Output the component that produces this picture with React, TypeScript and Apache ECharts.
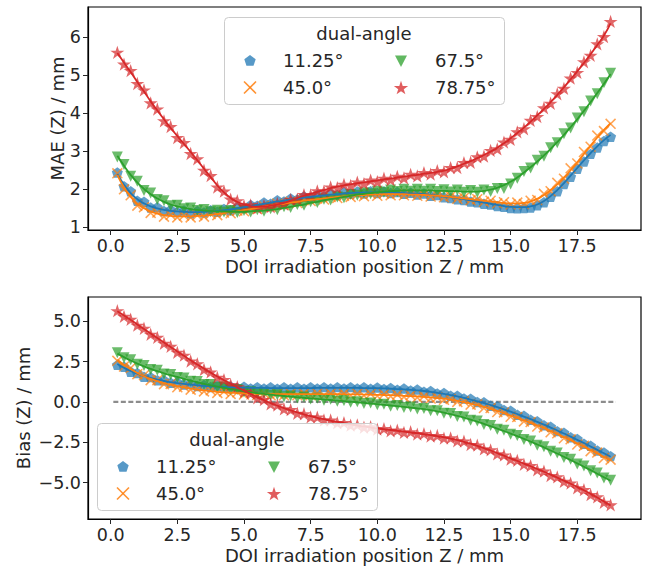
import React, { useEffect, useRef } from "react";
import * as echarts from "echarts";

// DOI irradiation positions Z (mm)
const zPositions = [
  0.25, 0.5, 0.75, 1.0, 1.25, 1.5, 1.75, 2.0, 2.25, 2.5,
  2.75, 3.0, 3.25, 3.5, 3.75, 4.0, 4.25, 4.5, 4.75, 5.0,
  5.25, 5.5, 5.75, 6.0, 6.25, 6.5, 6.75, 7.0, 7.25, 7.5,
  7.75, 8.0, 8.25, 8.5, 8.75, 9.0, 9.25, 9.5, 9.75, 10.0,
  10.25, 10.5, 10.75, 11.0, 11.25, 11.5, 11.75, 12.0, 12.25, 12.5,
  12.75, 13.0, 13.25, 13.5, 13.75, 14.0, 14.25, 14.5, 14.75, 15.0,
  15.25, 15.5, 15.75, 16.0, 16.25, 16.5, 16.75, 17.0, 17.25, 17.5,
  17.75, 18.0, 18.25, 18.5, 18.75,
];

const angleNames = ["11.25°", "45.0°", "67.5°", "78.75°"];

// ---- MAE (Z), measured points ----
const maeMeas11 = [
  2.44, 2.08, 1.95, 1.70, 1.67, 1.52, 1.53, 1.43, 1.46, 1.40,
  1.44, 1.37, 1.43, 1.39, 1.45, 1.41, 1.48, 1.45, 1.53, 1.51,
  1.59, 1.57, 1.65, 1.62, 1.71, 1.68, 1.76, 1.73, 1.81, 1.78,
  1.85, 1.82, 1.89, 1.85, 1.92, 1.88, 1.94, 1.89, 1.95, 1.90,
  1.94, 1.90, 1.93, 1.88, 1.91, 1.86, 1.89, 1.83, 1.85, 1.79,
  1.77, 1.74, 1.72, 1.68, 1.66, 1.62, 1.60, 1.56, 1.54, 1.51,
  1.50, 1.51, 1.52, 1.58, 1.66, 1.80, 1.95, 2.14, 2.33, 2.54,
  2.73, 2.93, 3.10, 3.27, 3.38,
];
const maeMeas45 = [
  2.42, 2.00, 1.84, 1.57, 1.53, 1.38, 1.39, 1.28, 1.33, 1.26,
  1.31, 1.26, 1.32, 1.28, 1.35, 1.32, 1.39, 1.37, 1.44, 1.42,
  1.50, 1.48, 1.56, 1.54, 1.62, 1.59, 1.67, 1.64, 1.72, 1.69,
  1.76, 1.73, 1.80, 1.77, 1.83, 1.80, 1.86, 1.82, 1.88, 1.83,
  1.89, 1.84, 1.89, 1.84, 1.88, 1.83, 1.87, 1.81, 1.85, 1.79,
  1.82, 1.75, 1.78, 1.71, 1.74, 1.67, 1.70, 1.63, 1.66, 1.60,
  1.65, 1.61, 1.70, 1.72, 1.88, 1.95, 2.17, 2.28, 2.55, 2.68,
  2.98, 3.12, 3.41, 3.53, 3.72,
];
const maeMeas675 = [
  2.85, 2.65, 2.34, 2.21, 1.97, 1.90, 1.73, 1.70, 1.57, 1.58,
  1.49, 1.51, 1.44, 1.47, 1.41, 1.45, 1.40, 1.44, 1.39, 1.44,
  1.40, 1.46, 1.42, 1.49, 1.46, 1.54, 1.52, 1.60, 1.58, 1.67,
  1.65, 1.74, 1.72, 1.80, 1.78, 1.86, 1.84, 1.91, 1.88, 1.95,
  1.92, 1.98, 1.94, 2.00, 1.95, 2.00, 1.95, 2.00, 1.94, 1.99,
  1.93, 1.98, 1.92, 1.97, 1.92, 1.98, 1.94, 2.02, 2.02, 2.14,
  2.29, 2.47, 2.56, 2.76, 2.87, 3.09, 3.22, 3.46, 3.61, 3.87,
  4.04, 4.32, 4.51, 4.80, 5.05,
];
const maeMeas7875 = [
  5.60, 5.29, 5.12, 4.78, 4.61, 4.27, 4.11, 3.80, 3.65, 3.36,
  3.23, 2.94, 2.80, 2.50, 2.36, 2.06, 1.95, 1.74, 1.70, 1.57,
  1.59, 1.51, 1.57, 1.54, 1.63, 1.61, 1.73, 1.74, 1.86, 1.85,
  1.96, 1.95, 2.06, 2.04, 2.13, 2.10, 2.19, 2.15, 2.24, 2.20,
  2.29, 2.25, 2.34, 2.30, 2.39, 2.35, 2.44, 2.40, 2.49, 2.46,
  2.57, 2.57, 2.70, 2.71, 2.85, 2.87, 3.02, 3.06, 3.24, 3.31,
  3.51, 3.59, 3.81, 3.91, 4.14, 4.26, 4.51, 4.65, 4.92, 5.07,
  5.35, 5.52, 5.82, 6.01, 6.41,
];

// ---- MAE (Z), fitted curves ----
const maeFit11 = [
  2.40, 2.12, 1.90, 1.74, 1.63, 1.55, 1.50, 1.46, 1.43, 1.42,
  1.41, 1.40, 1.40, 1.41, 1.42, 1.43, 1.45, 1.47, 1.50, 1.53,
  1.56, 1.59, 1.62, 1.65, 1.68, 1.70, 1.73, 1.75, 1.78, 1.80,
  1.82, 1.84, 1.86, 1.87, 1.89, 1.90, 1.91, 1.91, 1.92, 1.92,
  1.92, 1.92, 1.91, 1.90, 1.89, 1.88, 1.87, 1.85, 1.83, 1.81,
  1.79, 1.77, 1.74, 1.71, 1.68, 1.65, 1.62, 1.59, 1.56, 1.54,
  1.53, 1.53, 1.55, 1.60, 1.69, 1.82, 1.98, 2.16, 2.36, 2.56,
  2.76, 2.95, 3.13, 3.29, 3.43,
];
const maeFit45 = [
  2.38, 2.05, 1.80, 1.62, 1.50, 1.42, 1.36, 1.32, 1.30, 1.29,
  1.29, 1.29, 1.30, 1.31, 1.33, 1.35, 1.37, 1.40, 1.42, 1.45,
  1.48, 1.51, 1.54, 1.57, 1.60, 1.62, 1.65, 1.67, 1.70, 1.72,
  1.74, 1.76, 1.78, 1.80, 1.81, 1.83, 1.84, 1.85, 1.86, 1.86,
  1.87, 1.87, 1.87, 1.87, 1.86, 1.86, 1.85, 1.84, 1.83, 1.82,
  1.80, 1.78, 1.76, 1.74, 1.72, 1.70, 1.68, 1.66, 1.64, 1.63,
  1.63, 1.64, 1.68, 1.75, 1.85, 1.98, 2.13, 2.31, 2.50, 2.71,
  2.93, 3.15, 3.36, 3.56, 3.74,
];
const maeFit675 = [
  2.88, 2.62, 2.38, 2.18, 2.01, 1.87, 1.76, 1.67, 1.60, 1.55,
  1.51, 1.48, 1.46, 1.44, 1.43, 1.42, 1.42, 1.41, 1.41, 1.41,
  1.42, 1.43, 1.44, 1.46, 1.48, 1.51, 1.54, 1.57, 1.60, 1.64,
  1.67, 1.71, 1.74, 1.77, 1.80, 1.83, 1.86, 1.88, 1.90, 1.92,
  1.94, 1.95, 1.96, 1.97, 1.97, 1.97, 1.97, 1.97, 1.96, 1.96,
  1.95, 1.95, 1.94, 1.94, 1.94, 1.96, 1.99, 2.04, 2.11, 2.20,
  2.31, 2.44, 2.58, 2.73, 2.89, 3.06, 3.24, 3.43, 3.63, 3.84,
  4.06, 4.29, 4.53, 4.77, 5.03,
];
const maeFit7875 = [
  5.58, 5.33, 5.08, 4.82, 4.57, 4.31, 4.07, 3.84, 3.61, 3.40,
  3.19, 2.98, 2.76, 2.54, 2.32, 2.10, 1.92, 1.77, 1.67, 1.60,
  1.56, 1.54, 1.54, 1.57, 1.60, 1.64, 1.70, 1.77, 1.83, 1.88,
  1.93, 1.98, 2.03, 2.07, 2.10, 2.13, 2.16, 2.18, 2.21, 2.23,
  2.26, 2.28, 2.31, 2.33, 2.36, 2.38, 2.41, 2.43, 2.46, 2.49,
  2.54, 2.60, 2.67, 2.74, 2.82, 2.90, 2.99, 3.09, 3.21, 3.34,
  3.48, 3.62, 3.78, 3.94, 4.11, 4.29, 4.48, 4.68, 4.89, 5.10,
  5.32, 5.55, 5.79, 6.04, 6.36,
];

// ---- Bias (Z), measured points ----
const biasMeas11 = [
  2.30, 2.18, 1.87, 1.80, 1.56, 1.54, 1.35, 1.35, 1.19, 1.22,
  1.08, 1.12, 0.99, 1.05, 0.93, 1.00, 0.89, 0.96, 0.86, 0.94,
  0.84, 0.92, 0.83, 0.91, 0.82, 0.91, 0.82, 0.91, 0.82, 0.91,
  0.83, 0.92, 0.83, 0.92, 0.83, 0.92, 0.83, 0.91, 0.82, 0.90,
  0.80, 0.87, 0.76, 0.83, 0.71, 0.77, 0.64, 0.68, 0.53, 0.55,
  0.38, 0.39, 0.21, 0.20, 0.00, -0.02, -0.23, -0.27, -0.50, -0.55,
  -0.79, -0.86, -1.11, -1.19, -1.45, -1.54, -1.81, -1.91, -2.19, -2.30,
  -2.59, -2.71, -3.01, -3.13, -3.36,
];
const biasMeas45 = [
  2.55, 2.20, 2.10, 1.72, 1.66, 1.35, 1.35, 1.10, 1.12, 0.91,
  0.95, 0.76, 0.82, 0.65, 0.72, 0.56, 0.65, 0.50, 0.60, 0.46,
  0.56, 0.43, 0.54, 0.41, 0.53, 0.41, 0.53, 0.41, 0.53, 0.41,
  0.53, 0.41, 0.53, 0.41, 0.53, 0.40, 0.52, 0.39, 0.50, 0.37,
  0.48, 0.35, 0.45, 0.31, 0.41, 0.27, 0.36, 0.21, 0.29, 0.13,
  0.19, 0.00, 0.04, -0.17, -0.15, -0.38, -0.38, -0.63, -0.65, -0.92,
  -0.94, -1.21, -1.25, -1.53, -1.58, -1.88, -1.94, -2.25, -2.32, -2.64,
  -2.72, -3.05, -3.14, -3.48, -3.58,
];
const biasMeas675 = [
  3.05, 2.74, 2.62, 2.34, 2.26, 2.01, 1.96, 1.74, 1.71, 1.51,
  1.48, 1.28, 1.27, 1.08, 1.08, 0.91, 0.92, 0.76, 0.78, 0.62,
  0.64, 0.51, 0.54, 0.41, 0.45, 0.33, 0.37, 0.25, 0.30, 0.18,
  0.23, 0.11, 0.16, 0.04, 0.09, -0.02, 0.02, -0.10, -0.06, -0.18,
  -0.14, -0.26, -0.22, -0.34, -0.31, -0.44, -0.41, -0.55, -0.54, -0.70,
  -0.72, -0.90, -0.93, -1.13, -1.18, -1.40, -1.46, -1.69, -1.76, -2.00,
  -2.08, -2.33, -2.42, -2.68, -2.78, -3.05, -3.16, -3.44, -3.56, -3.85,
  -3.98, -4.27, -4.41, -4.71, -4.85,
];
const biasMeas7875 = [
  5.66, 5.31, 5.13, 4.76, 4.57, 4.20, 4.01, 3.64, 3.45, 3.08,
  2.90, 2.54, 2.37, 2.02, 1.86, 1.53, 1.39, 1.08, 0.95, 0.65,
  0.54, 0.25, 0.15, -0.12, -0.19, -0.43, -0.48, -0.70, -0.73, -0.93,
  -0.94, -1.12, -1.12, -1.29, -1.28, -1.44, -1.42, -1.57, -1.54, -1.69,
  -1.65, -1.79, -1.75, -1.89, -1.85, -1.99, -1.96, -2.11, -2.08, -2.24,
  -2.23, -2.41, -2.43, -2.64, -2.68, -2.91, -2.97, -3.22, -3.29, -3.55,
  -3.62, -3.87, -3.95, -4.21, -4.29, -4.56, -4.65, -4.93, -5.03, -5.32,
  -5.44, -5.75, -5.89, -6.22, -6.38,
];

// ---- Bias (Z), fitted curves ----
const biasFit11 = [
  2.35, 2.12, 1.92, 1.75, 1.61, 1.49, 1.39, 1.30, 1.23, 1.17,
  1.12, 1.07, 1.03, 1.00, 0.97, 0.95, 0.93, 0.91, 0.90, 0.89,
  0.88, 0.87, 0.87, 0.86, 0.86, 0.86, 0.86, 0.86, 0.86, 0.86,
  0.87, 0.87, 0.87, 0.87, 0.87, 0.87, 0.87, 0.86, 0.86, 0.85,
  0.84, 0.82, 0.80, 0.78, 0.75, 0.72, 0.68, 0.63, 0.57, 0.50,
  0.42, 0.34, 0.25, 0.15, 0.04, -0.07, -0.19, -0.32, -0.46, -0.60,
  -0.75, -0.91, -1.07, -1.24, -1.41, -1.59, -1.77, -1.96, -2.15, -2.35,
  -2.55, -2.76, -2.97, -3.18, -3.40,
];
const biasFit45 = [
  2.62, 2.31, 2.04, 1.80, 1.60, 1.43, 1.29, 1.17, 1.07, 0.98,
  0.90, 0.83, 0.77, 0.72, 0.67, 0.63, 0.60, 0.57, 0.55, 0.53,
  0.51, 0.50, 0.49, 0.48, 0.48, 0.48, 0.48, 0.48, 0.48, 0.48,
  0.48, 0.48, 0.48, 0.48, 0.48, 0.47, 0.47, 0.46, 0.45, 0.44,
  0.43, 0.42, 0.40, 0.38, 0.36, 0.34, 0.31, 0.28, 0.24, 0.20,
  0.14, 0.07, -0.01, -0.10, -0.20, -0.31, -0.43, -0.56, -0.70, -0.85,
  -0.99, -1.14, -1.30, -1.46, -1.63, -1.81, -1.99, -2.18, -2.37, -2.57,
  -2.77, -2.98, -3.19, -3.41, -3.63,
];
const biasFit675 = [
  3.00, 2.78, 2.57, 2.38, 2.21, 2.05, 1.91, 1.78, 1.66, 1.55,
  1.43, 1.32, 1.22, 1.12, 1.03, 0.95, 0.87, 0.80, 0.73, 0.66,
  0.60, 0.55, 0.50, 0.45, 0.41, 0.37, 0.33, 0.29, 0.26, 0.22,
  0.19, 0.15, 0.12, 0.08, 0.05, 0.02, -0.02, -0.06, -0.10, -0.14,
  -0.18, -0.22, -0.26, -0.30, -0.35, -0.40, -0.45, -0.51, -0.58, -0.66,
  -0.76, -0.86, -0.97, -1.09, -1.22, -1.36, -1.50, -1.65, -1.80, -1.96,
  -2.12, -2.29, -2.46, -2.64, -2.82, -3.01, -3.20, -3.40, -3.60, -3.81,
  -4.02, -4.23, -4.45, -4.67, -4.89,
];
const biasFit7875 = [
  5.62, 5.36, 5.09, 4.81, 4.53, 4.25, 3.97, 3.69, 3.41, 3.13,
  2.86, 2.59, 2.33, 2.07, 1.82, 1.58, 1.35, 1.13, 0.91, 0.70,
  0.50, 0.30, 0.11, -0.07, -0.23, -0.38, -0.52, -0.65, -0.77, -0.88,
  -0.98, -1.07, -1.16, -1.24, -1.32, -1.39, -1.46, -1.52, -1.58, -1.64,
  -1.69, -1.74, -1.79, -1.84, -1.89, -1.94, -2.00, -2.06, -2.12, -2.19,
  -2.27, -2.36, -2.47, -2.59, -2.72, -2.86, -3.01, -3.17, -3.33, -3.50,
  -3.66, -3.82, -3.99, -4.16, -4.33, -4.51, -4.69, -4.88, -5.07, -5.27,
  -5.48, -5.70, -5.93, -6.17, -6.42,
];

// zero reference line (Bias plot)
const zeroLineX = [0.1, 18.95];
const zeroLineY = [0, 0];

// tick labels
const xTicks = [0, 2.5, 5, 7.5, 10, 12.5, 15, 17.5];
const maeTicks = [1, 2, 3, 4, 5, 6];
const biasTicks = [-5, -2.5, 0, 2.5, 5];

const COLORS = ["#1f77b4", "#ff7f0e", "#2ca02c", "#d62728"];
const FONT = "DejaVu Sans";
const TEXT = "#262626";

const SYM_PENTAGON = "path://M0,-1L0.951,-0.309L0.588,0.809L-0.588,0.809L-0.951,-0.309Z";
const SYM_X = "path://M-1,-0.8L-0.8,-1L1,0.8L0.8,1Z M0.8,-1L1,-0.8L-0.8,1L-1,0.8Z";
const SYM_TRI = "path://M0,0L2,0L1,2Z";
const SYM_STAR =
  "path://M0,-1L0.2245,-0.309L0.951,-0.309L0.3633,0.118L0.588,0.809L0,0.382L-0.588,0.809L-0.3633,0.118L-0.951,-0.309L-0.2245,-0.309Z";
const SYMBOLS = [SYM_PENTAGON, SYM_X, SYM_TRI, SYM_STAR];
const SYM_SIZES = [11, 11, 11, 14];

function pairs(xs: number[], ys: number[]) {
  return xs.map((x, i) => [x, ys[i]]);
}

function minusFmt(v: number, digits: number) {
  const s = Math.abs(v).toFixed(digits);
  return v < 0 ? "\u2212" + s : s;
}

function markerGraphic(kind: number, cx: number, cy: number) {
  const color = COLORS[kind];
  const style = { fill: color, opacity: 0.75 };
  if (kind === 0) {
    const R = 6;
    const pts = [0, 1, 2, 3, 4].map((k) => {
      const a = ((-90 + k * 72) * Math.PI) / 180;
      return [cx + R * Math.cos(a), cy + R * Math.sin(a) + 0.5];
    });
    return [{ type: "polygon", shape: { points: pts }, style, z: 101 }];
  }
  if (kind === 1) {
    const h = 6;
    const ls = { stroke: color, lineWidth: 1.6, opacity: 0.85 };
    return [
      { type: "line", shape: { x1: cx - h, y1: cy - h, x2: cx + h, y2: cy + h }, style: ls, z: 101 },
      { type: "line", shape: { x1: cx + h, y1: cy - h, x2: cx - h, y2: cy + h }, style: ls, z: 101 },
    ];
  }
  if (kind === 2) {
    const pts = [
      [cx - 6, cy - 5],
      [cx + 6, cy - 5],
      [cx, cy + 6.5],
    ];
    return [{ type: "polygon", shape: { points: pts }, style, z: 101 }];
  }
  const R = 7.5;
  const r = 2.9;
  const pts: number[][] = [];
  for (let k = 0; k < 10; k++) {
    const a = ((-90 + k * 36) * Math.PI) / 180;
    const rr = k % 2 === 0 ? R : r;
    pts.push([cx + rr * Math.cos(a), cy + rr * Math.sin(a) + 0.8]);
  }
  return [{ type: "polygon", shape: { points: pts }, style, z: 101 }];
}

function legendGraphic(x0: number, y0: number) {
  const w = 280;
  const h = 87;
  const els: any[] = [
    {
      type: "rect",
      shape: { x: x0 + 0.5, y: y0 + 0.5, width: w, height: h, r: 4 },
      style: { fill: "rgba(255,255,255,0.8)", stroke: "#cccccc", lineWidth: 1 },
      z: 100,
    },
    {
      type: "text",
      x: x0 + w / 2,
      y: y0 + 16.5,
      style: {
        text: "dual-angle",
        fill: TEXT,
        fontSize: 18,
        fontFamily: FONT,
        align: "center",
        verticalAlign: "middle",
        textAlign: "center",
        textVerticalAlign: "middle",
      },
      z: 101,
    },
  ];
  const rows = [y0 + 43.5, y0 + 70.5];
  const cols = [
    { m: x0 + 26, t: x0 + 59 },
    { m: x0 + 177, t: x0 + 211 },
  ];
  const order = [
    [0, 0, 0],
    [1, 0, 1],
    [2, 1, 0],
    [3, 1, 1],
  ];
  order.forEach(([k, c, r]) => {
    els.push(...markerGraphic(k, cols[c].m, rows[r]));
    els.push({
      type: "text",
      x: cols[c].t,
      y: rows[r],
      style: {
        text: angleNames[k],
        fill: TEXT,
        fontSize: 18,
        fontFamily: FONT,
        align: "left",
        verticalAlign: "middle",
        textAlign: "left",
        textVerticalAlign: "middle",
      },
      z: 101,
    });
  });
  return els;
}

function xAxisCfg(gridIndex: number) {
  return {
    type: "value",
    gridIndex,
    min: -0.85,
    max: 19.89,
    name: "DOI irradiation position Z / mm",
    nameLocation: "middle",
    nameGap: 27,
    nameMoveOverlap: false,
    nameTextStyle: { fontSize: 18, fontFamily: FONT, color: TEXT },
    axisLine: { show: true, onZero: false, lineStyle: { color: "#000", width: 1.2 } },
    axisTick: { show: true, length: 5, customValues: xTicks, lineStyle: { color: TEXT, width: 1 } },
    axisLabel: {
      customValues: xTicks,
      formatter: (v: number) => v.toFixed(1),
      fontSize: 17.5,
      fontFamily: FONT,
      color: TEXT,
      margin: 7,
    },
    splitLine: { show: false },
  };
}

function yAxisCfg(gridIndex: number, min: number, max: number, ticks: number[], name: string, gap: number, digits: number) {
  return {
    type: "value",
    gridIndex,
    min,
    max,
    name,
    nameLocation: "middle",
    nameGap: gap,
    nameMoveOverlap: false,
    nameTextStyle: { fontSize: 18, fontFamily: FONT, color: TEXT },
    axisLine: { show: true, onZero: false, lineStyle: { color: "#000", width: 1.2 } },
    axisTick: { show: true, length: 5, customValues: ticks, lineStyle: { color: TEXT, width: 1 } },
    axisLabel: {
      customValues: ticks,
      formatter: (v: number) => minusFmt(v, digits),
      fontSize: 17.5,
      fontFamily: FONT,
      color: TEXT,
      margin: 7,
    },
    splitLine: { show: false },
  };
}

export default function App() {
  const ref = useRef<HTMLDivElement>(null);

  useEffect(() => {
    if (!ref.current) return;
    const chart = echarts.init(ref.current, undefined, { renderer: "svg" });

    const maeMeas = [maeMeas11, maeMeas45, maeMeas675, maeMeas7875];
    const maeFit = [maeFit11, maeFit45, maeFit675, maeFit7875];
    const biasMeas = [biasMeas11, biasMeas45, biasMeas675, biasMeas7875];
    const biasFit = [biasFit11, biasFit45, biasFit675, biasFit7875];

    const series: any[] = [
      {
        type: "line",
        name: "zero",
        xAxisIndex: 1,
        yAxisIndex: 1,
        data: pairs(zeroLineX, zeroLineY),
        symbol: "none",
        lineStyle: { color: "#8c8c8c", width: 2.2, type: [5, 2.5] },
        z: 1,
      },
    ];
    [0, 1].forEach((g) => {
      const meas = g === 0 ? maeMeas : biasMeas;
      const fit = g === 0 ? maeFit : biasFit;
      for (let k = 0; k < 4; k++) {
        series.push({
          type: "scatter",
          name: angleNames[k],
          xAxisIndex: g,
          yAxisIndex: g,
          data: pairs(zPositions, meas[k]),
          symbol: SYMBOLS[k],
          symbolSize: SYM_SIZES[k],
          symbolKeepAspect: true,
          itemStyle: { color: COLORS[k], opacity: 0.7 },
          z: 2,
        });
        series.push({
          type: "line",
          name: angleNames[k] + " fit",
          xAxisIndex: g,
          yAxisIndex: g,
          data: pairs(zPositions, fit[k]),
          symbol: "none",
          smooth: true,
          lineStyle: { color: COLORS[k], width: 1.8 },
          z: 3,
        });
      }
    });

    chart.setOption({
      animation: false,
      backgroundColor: "#ffffff",
      textStyle: { fontFamily: FONT },
      grid: [
        { left: 88, top: 7, width: 553, height: 223, show: true, borderColor: "#000", borderWidth: 1.2, backgroundColor: "transparent" },
        { left: 88, top: 297, width: 553, height: 222, show: true, borderColor: "#000", borderWidth: 1.2, backgroundColor: "transparent" },
      ],
      xAxis: [xAxisCfg(0), xAxisCfg(1)],
      yAxis: [
        yAxisCfg(0, 0.93, 6.79, maeTicks, "MAE (Z) / mm", 22, 0),
        yAxisCfg(1, -7.26, 6.51, biasTicks, "Bias (Z) / mm", 56, 1),
      ],
      series,
      graphic: [...legendGraphic(224, 17), ...legendGraphic(97, 423)],
    });

    return () => chart.dispose();
  }, []);

  return (
    <div
      ref={ref}
      style={{ position: "fixed", left: 0, top: 0, width: 646, height: 570, background: "#fff" }}
    />
  );
}
